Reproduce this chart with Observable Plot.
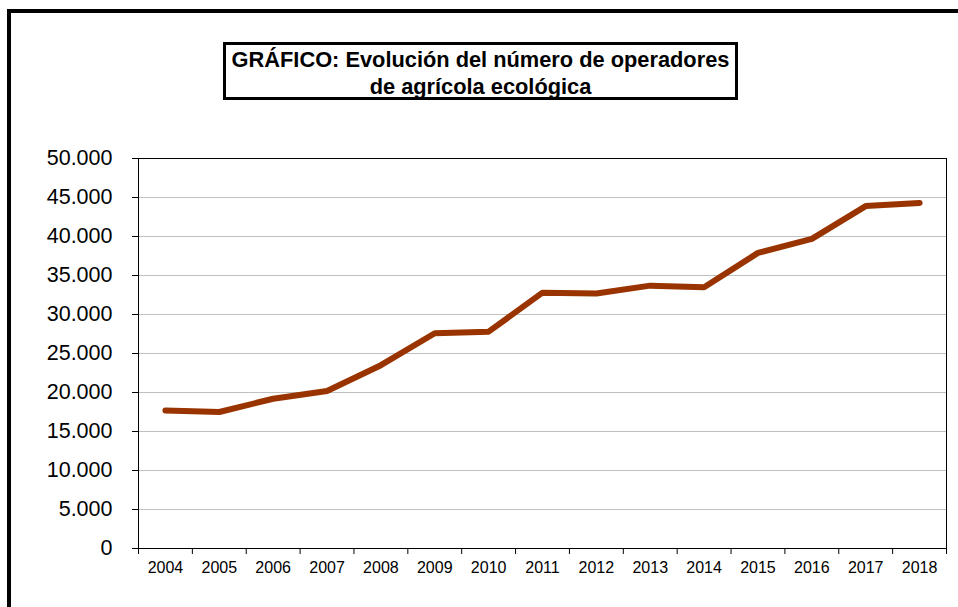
<!DOCTYPE html>
<html>
<head>
<meta charset="utf-8">
<script src="https://cdn.jsdelivr.net/npm/d3@7"></script>
<script src="https://cdn.jsdelivr.net/npm/@observablehq/plot@0.6"></script>
<style>
  html, body { margin: 0; padding: 0; background: #fff; overflow: hidden; }
  #wrap { position: relative; width: 958px; height: 607px; overflow: hidden; font-family: "Liberation Sans", Arial, sans-serif; }
  #outer { position: absolute; left: 7px; top: 9px; width: 1000px; height: 700px; border-top: 4px solid #000; border-left: 4px solid #000; box-sizing: border-box; }
  #chart { position: absolute; left: 0; top: 0; }
  #title { position: absolute; left: 223px; top: 42px; width: 515px; height: 58px; box-sizing: border-box; border: 3.5px solid #000; background: #fff;
           font-weight: bold; font-size: 21.8px; line-height: 27px; text-align: center; color: #000; padding-top: 1px; }
</style>
</head>
<body>
<div id="wrap">
  <div id="outer"></div>
  <div id="chart"></div>
  <div id="title">GRÁFICO: Evolución del número de operadores<br>de agrícola ecológica</div>
</div>
<script>
const years = [2004, 2005, 2006, 2007, 2008, 2009, 2010, 2011, 2012, 2013, 2014, 2015, 2016, 2017, 2018];
const operadores = [17700, 17500, 19200, 20200, 23500, 27600, 27800, 32800, 32700, 33700, 33500, 37900, 39700, 43900, 44300];
const yTicks = [0, 5000, 10000, 15000, 20000, 25000, 30000, 35000, 40000, 45000, 50000];

const data = years.map((y, i) => ({year: y, value: operadores[i]}));
const boundaries = [years[0] - 0.5, ...years.map(y => y + 0.5)];
const fmt = d => d3.format(",")(d).replace(/,/g, ".");

const chart = Plot.plot({
  width: 958,
  height: 607,
  marginLeft: 138,
  marginRight: 12,
  marginTop: 158,
  marginBottom: 59,
  style: {fontFamily: "'Liberation Sans', Arial, sans-serif", color: "#000", background: "transparent"},
  x: {type: "linear", domain: [years[0] - 0.5, years[years.length - 1] + 0.5]},
  y: {domain: [0, 50000]},
  marks: [
    Plot.gridY(yTicks, {stroke: "#c0c0c0", strokeOpacity: 1}),
    Plot.frame({stroke: "#000"}),
    Plot.axisY(yTicks, {tickSize: 6, tickPadding: 20, tickFormat: fmt, fontSize: 21.5, label: null}),
    Plot.axisX(years, {tickSize: 0, tickPadding: 13, tickFormat: d => String(d), fontSize: 16, label: null}),
    Plot.axisX(boundaries, {tickSize: 6, tickFormat: () => "", label: null}),
    Plot.line(data, {x: "year", y: "value", stroke: "#993300", strokeWidth: 6, strokeLinecap: "round", strokeLinejoin: "round"})
  ]
});
document.getElementById("chart").appendChild(chart);
</script>
</body>
</html>
